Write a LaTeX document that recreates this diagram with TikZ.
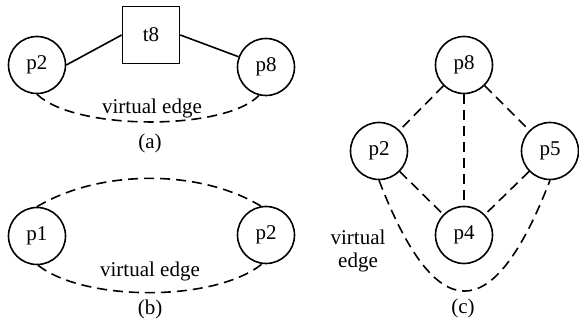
\documentclass[tikz,border=0pt]{standalone}
\usepackage{fontspec}
\setmainfont{Liberation Serif}
\begin{document}
\begin{tikzpicture}[x=1pt,y=-1pt,
  every node/.style={font=\fontsize{21}{23}\selectfont},
  place/.style={circle,draw,line width=1.6pt,minimum size=57pt,inner sep=0pt},
  trans/.style={rectangle,draw,line width=1.6pt,minimum size=57pt,inner sep=0pt},
  arc/.style={line width=1.6pt},
  virt/.style={line width=1.6pt,dash pattern=on 10pt off 6pt}]
\useasboundingbox (0,0) rectangle (579,320);

% (a) place - transition - place, with the virtual edge below
\node[place] (a2) at (37,65) {p2};
\node[trans] (at8) at (151,35) {t8};
\node[place] (a8) at (266,67) {p8};
\draw[arc] (a2.east) -- (at8.west);
\draw[arc] (at8.east) -- (a8);
\draw[virt] (a2.south) .. controls (75,131) and (225,131) .. (a8.-104);
\node (alab) at (152,108) {virtual edge};
\node (acap) at (150,143) {(a)};

% (b) two places joined by two virtual edges
\node[place] (b1) at (37,236) {p1};
\node[place] (b2) at (266,235) {p2};
\draw[virt] (b1.north) .. controls (100,169) and (200,169) .. (b2.100);
\draw[virt] (b1.-88) .. controls (85,302) and (215,302) .. (b2.-98);
\node (blab) at (150,271) {virtual edge};
\node (bcap) at (150,309) {(b)};

% (c) diamond of places with a virtual edge round the bottom
\node[place] (c8) at (464,65) {p8};
\node[place] (c2) at (379,151) {p2};
\node[place] (c5) at (550,151) {p5};
\node[place] (c4) at (464,235) {p4};
\draw[virt] (c8) -- (c2);
\draw[virt] (c8) -- (c5);
\draw[virt] (c8) -- (c4);
\draw[virt] (c2) -- (c4);
\draw[virt] (c5) -- (c4);
\draw[virt] (c2.south) .. controls (436,328) and (493,328) .. (c5.south);
\node[align=center] (clab) at (358,251) {virtual\\edge};
\node (ccap) at (463,308) {(c)};
\end{tikzpicture}
\end{document}
